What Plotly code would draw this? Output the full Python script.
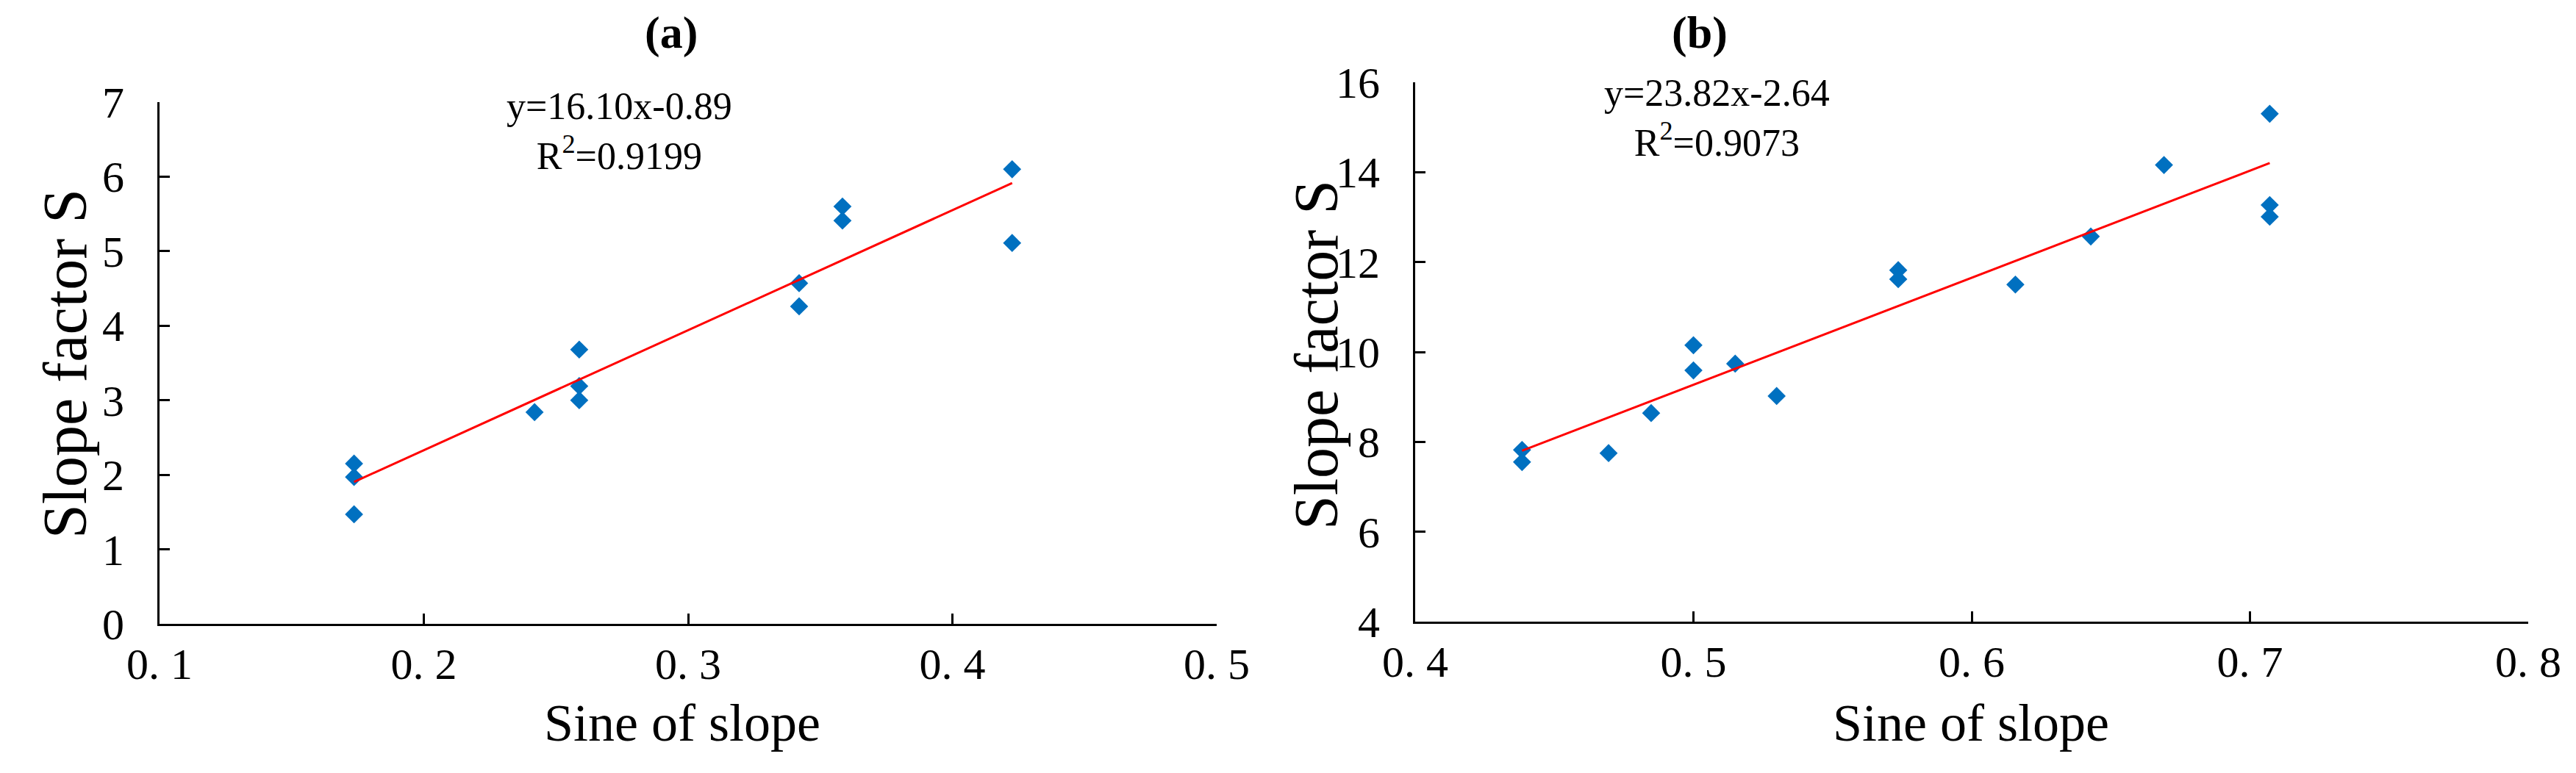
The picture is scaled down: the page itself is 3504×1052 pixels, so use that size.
import plotly.graph_objects as go
import numpy as np

# ---------------- data ----------------
# Panel (a)
a_sine = [0.1736, 0.1736, 0.1736, 0.2419, 0.2588, 0.2588, 0.2588,
          0.3420, 0.3420, 0.3584, 0.3584, 0.4226, 0.4226]
a_S = [2.15, 1.97, 1.47, 2.84, 3.68, 3.19, 3.00,
       4.57, 4.26, 5.60, 5.41, 6.10, 5.11]
a_slope, a_intercept = 16.10, -0.89
a_eq = "y=16.10x-0.89<br>R<sup>2</sup>=0.9199"

# Panel (b)
b_sine = [0.4384, 0.4384, 0.4695, 0.4848, 0.5000, 0.5000, 0.5150, 0.5299,
          0.5736, 0.5736, 0.6157, 0.6428, 0.6691, 0.7071, 0.7071, 0.7071]
b_S = [7.82, 7.55, 7.75, 8.64, 10.15, 9.59, 9.74, 9.02,
       11.82, 11.62, 11.50, 12.57, 14.16, 15.30, 13.27, 13.01]
b_slope, b_intercept = 23.82, -2.64
b_eq = "y=23.82x-2.64<br>R<sup>2</sup>=0.9073"

a_xticks = [0.1, 0.2, 0.3, 0.4, 0.5]
a_xticktext = ["0. 1", "0. 2", "0. 3", "0. 4", "0. 5"]
b_xticks = [0.4, 0.5, 0.6, 0.7, 0.8]
b_xticktext = ["0. 4", "0. 5", "0. 6", "0. 7", "0. 8"]

x_title = "Sine of slope"
y_title = "Slope factor S"

# ---------------- styling ----------------
FONT = "Liberation Serif"
BLUE = "#0070C0"
W, H = 3504, 1052

fig = go.Figure()

def add_panel(xs, ys, slope, intercept, xa, ya):
    fig.add_trace(go.Scatter(
        x=xs, y=ys, mode="markers", xaxis=xa, yaxis=ya,
        marker=dict(symbol="diamond", size=19, color=BLUE, line=dict(width=0)),
        showlegend=False, hoverinfo="x+y"))
    lx = np.array([min(xs), max(xs)])
    fig.add_trace(go.Scatter(
        x=lx, y=slope * lx + intercept, mode="lines", xaxis=xa, yaxis=ya,
        line=dict(color="red", width=3), showlegend=False))

add_panel(a_sine, a_S, a_slope, a_intercept, "x", "y")
add_panel(b_sine, b_S, b_slope, b_intercept, "x2", "y2")

axis_common = dict(
    showline=True, linecolor="black", linewidth=3,
    ticks="inside", ticklen=14, tickwidth=3, tickcolor="black",
    showgrid=False, zeroline=False, automargin=False,
    tickfont=dict(family=FONT, size=60, color="black"),
)

fig.update_layout(
    width=W, height=H,
    margin=dict(l=0, r=0, t=0, b=0, pad=0),
    paper_bgcolor="white", plot_bgcolor="white",
    font=dict(family=FONT, color="black"),
    showlegend=False,
    xaxis=dict(axis_common, domain=[209 / W, 1647 / W], range=[0.1, 0.5],
               tickvals=a_xticks, ticktext=a_xticktext, ticklabelstandoff=0,
               anchor="y"),
    yaxis=dict(axis_common, domain=[(H - 841) / H, (H - 131) / H], range=[0, 7],
               dtick=1, ticklabelstandoff=33, anchor="x"),
    xaxis2=dict(axis_common, domain=[1917 / W, 3431 / W], range=[0.4, 0.8],
                tickvals=b_xticks, ticktext=b_xticktext, ticklabelstandoff=0,
                anchor="y2"),
    yaxis2=dict(axis_common, domain=[(H - 838) / H, (H - 104) / H], range=[4, 16],
                dtick=2, ticklabelstandoff=33, anchor="x2"),
)

def ann(text, x, y, size, bold=False, angle=0, yanchor="middle"):
    fig.add_annotation(
        text=f"<b>{text}</b>" if bold else text,
        x=x / W, y=1 - y / H, xref="paper", yref="paper",
        xanchor="center", yanchor=yanchor, showarrow=False, textangle=angle,
        font=dict(family=FONT, size=size, color="black"))

# panel titles
ann("(a)", 905, 0, 62, bold=True, yanchor="top")
ann("(b)", 2304, 0, 62, bold=True, yanchor="top")
# regression equations
ann(a_eq, 834, 170, 52)
ann(b_eq, 2327, 152, 52)
# axis titles
ann(x_title, 920, 976, 72)
ann(x_title, 2673, 976, 72)
ann(y_title, 80, 487, 84, angle=-90)
ann(y_title, 1782, 475, 84, angle=-90)

fig.write_html("out.html")
